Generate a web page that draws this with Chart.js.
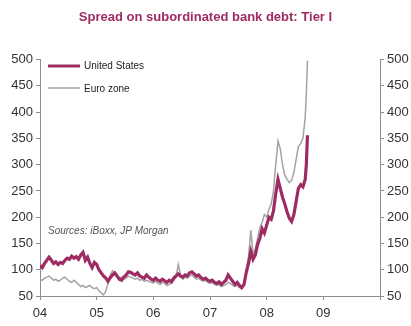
<!DOCTYPE html>
<html>
<head>
<meta charset="utf-8">
<script src="https://cdn.jsdelivr.net/npm/chart.js@4/dist/chart.umd.min.js"></script>
<style>
html,body{margin:0;padding:0;background:#fff;}
#wrap{width:411px;height:326px;position:relative;}
</style>
</head>
<body>
<div id="wrap"><canvas id="c" width="411" height="326"></canvas></div>
<script>
const titleText = "Spread on subordinated bank debt: Tier I";
const sourceText = "Sources: iBoxx, JP Morgan";
const seriesNames = ["United States", "Euro zone"];
const yTicks = [50,100,150,200,250,300,350,400,450,500];
const xTickLabels = {2004:"04",2005:"05",2006:"06",2007:"07",2008:"08",2009:"09"};

const dates = [
2004.00,2004.04,2004.08,2004.12,2004.16,2004.20,2004.24,2004.28,2004.32,2004.36,
2004.40,2004.44,2004.48,2004.52,2004.56,2004.60,2004.64,2004.68,2004.72,2004.76,
2004.80,2004.84,2004.88,2004.92,2004.96,2005.00,2005.04,2005.08,2005.12,2005.16,
2005.20,2005.24,2005.28,2005.32,2005.36,2005.40,2005.44,2005.48,2005.52,2005.56,
2005.60,2005.64,2005.68,2005.72,2005.76,2005.80,2005.84,2005.88,2005.92,2005.96,
2006.00,2006.04,2006.08,2006.12,2006.16,2006.20,2006.24,2006.28,2006.32,2006.36,
2006.40,2006.44,2006.48,2006.52,2006.56,2006.60,2006.64,2006.68,2006.72,2006.76,
2006.80,2006.84,2006.88,2006.92,2006.96,2007.00,2007.04,2007.08,2007.12,2007.16,
2007.20,2007.24,2007.28,2007.32,2007.36,2007.40,2007.44,2007.48,2007.52,2007.56,
2007.60,2007.64,2007.68,2007.72,2007.76,2007.80,2007.84,2007.88,2007.92,2007.96,
2008.00,2008.04,2008.08,2008.12,2008.16,2008.20,2008.24,2008.28,2008.32,2008.36,
2008.40,2008.44,2008.48,2008.52,2008.56,2008.60,2008.64,2008.68,2008.70,2008.72
];

const usSpread = [
108,104,112,118,124,118,112,115,110,114,
112,118,122,120,126,122,125,120,128,133,
118,124,112,104,114,110,100,94,88,84,
78,85,90,94,88,82,80,86,90,96,
95,92,90,94,88,86,84,90,86,82,
80,84,80,78,82,79,76,80,77,84,
88,92,88,86,90,88,94,96,92,88,
90,85,82,84,80,78,80,76,74,77,
72,76,80,90,84,78,72,76,70,66,
72,95,112,135,120,128,148,160,178,170,
185,200,196,212,245,272,255,238,225,210,
198,192,205,230,255,262,258,272,300,356
];

const euroSpread = [
82,80,84,86,88,84,80,82,78,80,
84,86,82,78,76,80,76,72,68,70,
66,68,70,66,64,66,60,56,52,58,
76,90,98,94,88,84,86,82,84,88,
86,84,82,84,80,82,78,80,78,76,
75,78,74,72,76,74,70,72,74,80,
86,110,90,82,86,84,88,90,86,82,
84,80,78,80,76,74,76,72,70,72,
68,70,72,76,74,70,68,70,66,64,
70,100,125,175,130,140,160,180,190,205,
200,215,225,250,300,345,330,300,280,272,
266,270,285,310,335,340,350,390,435,498
];

const US_COLOR = "#9e2c63";
const EURO_COLOR = "#a3a3a3";
const AXIS_COLOR = "#8c8c8c";
const TICK_COLOR = "#333333";

const toPts = arr => arr.map((v,i)=>({x:dates[i], y:v}));

const overlay = {
  id: "overlay",
  afterDraw(chart){
    const ctx = chart.ctx;
    const a = chart.chartArea;
    ctx.save();
    const lx = a.left + 8;
    ctx.lineCap = "butt";
    ctx.strokeStyle = US_COLOR; ctx.lineWidth = 3;
    ctx.beginPath(); ctx.moveTo(lx, 66); ctx.lineTo(lx+32, 66); ctx.stroke();
    ctx.strokeStyle = EURO_COLOR; ctx.lineWidth = 1.5;
    ctx.beginPath(); ctx.moveTo(lx, 88); ctx.lineTo(lx+32, 88); ctx.stroke();
    ctx.fillStyle = "#222";
    ctx.font = "10px 'Liberation Sans', Arial, sans-serif";
    ctx.textBaseline = "middle";
    ctx.fillText(seriesNames[0], lx+36, 66);
    ctx.fillText(seriesNames[1], lx+36, 89);
    ctx.fillStyle = "#555";
    ctx.font = "italic 10px 'Liberation Sans', Arial, sans-serif";
    ctx.fillText(sourceText, a.left + 8, 231);
    ctx.restore();
  }
};

const yCommon = {
  type: "linear", min: 50, max: 500,
  afterBuildTicks: s => { s.ticks = yTicks.map(v=>({value:v})); },
  ticks: { color: TICK_COLOR, font: {family:"'Liberation Sans', Arial, sans-serif", size: 13}, padding: 3 },
  grid: { drawOnChartArea: false, drawTicks: true, tickLength: 4, color: AXIS_COLOR },
  border: { display: true, color: AXIS_COLOR, width: 1 }
};

new Chart(document.getElementById("c"), {
  type: "line",
  data: {
    datasets: [
      { label: seriesNames[1], data: toPts(euroSpread), borderColor: EURO_COLOR, borderWidth: 1.5, pointRadius: 0, tension: 0, order: 2 },
      { label: seriesNames[0], data: toPts(usSpread), borderColor: US_COLOR, borderWidth: 3.2, pointRadius: 0, tension: 0, order: 1 }
    ]
  },
  options: {
    responsive: false,
    animation: false,
    layout: { padding: { left: 0, right: 0, top: 0, bottom: 0 } },
    plugins: {
      legend: { display: false },
      tooltip: { enabled: false },
      title: {
        display: true, text: titleText, color: US_COLOR,
        font: { family: "'Liberation Sans', Arial, sans-serif", size: 13, weight: "bold" },
        padding: { top: 10, bottom: 34 }
      }
    },
    scales: {
      x: {
        type: "linear", position: "bottom", min: 2004, max: 2010,
        afterBuildTicks: s => { s.ticks = [2004,2005,2006,2007,2008,2009,2010].map(v=>({value:v})); },
        ticks: { color: TICK_COLOR, font: {family:"'Liberation Sans', Arial, sans-serif", size: 13}, padding: 6, maxRotation: 0,
                 callback: v => xTickLabels[v] || "" },
        grid: { drawOnChartArea: false, drawTicks: true, tickLength: 4, color: AXIS_COLOR },
        border: { display: true, color: AXIS_COLOR, width: 1 },
        afterFit: s => { s.height = 30; }
      },
      y: Object.assign({}, yCommon, { position: "left", afterFit: s => { s.width = 40; } }),
      y2: Object.assign({}, yCommon, { position: "right", afterFit: s => { s.width = 31; } })
    }
  },
  plugins: [overlay]
});
</script>
</body>
</html>
